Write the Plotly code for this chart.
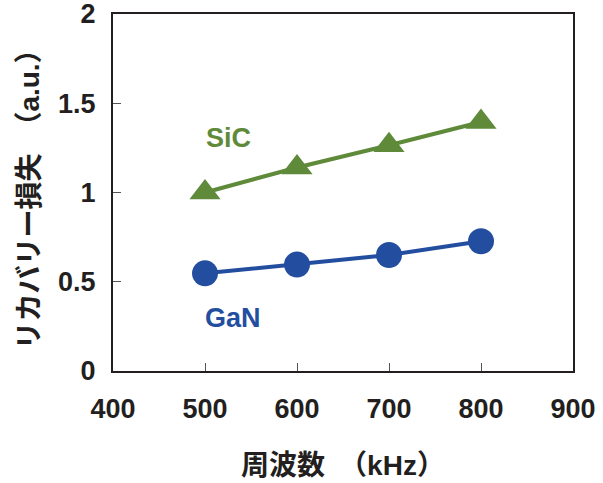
import plotly.graph_objects as go

freq = [500, 600, 700, 800]
sic = [1.00, 1.14, 1.265, 1.395]
gan = [0.547, 0.596, 0.65, 0.727]
x_ticks = [400, 500, 600, 700, 800, 900]
y_ticks = [0, 0.5, 1, 1.5, 2]
y_tick_text = ["0", "0.5", "1", "1.5", "2"]

GREEN = "#5e8a3a"
BLUE = "#234ea0"
DARK = "#231f20"
LATIN = "Liberation Sans, Arial, sans-serif"
CJK = "Liberation Sans, Noto Sans CJK JP, sans-serif"

fig = go.Figure()
fig.add_trace(go.Scatter(
    x=freq, y=sic, mode="lines+markers", name="SiC",
    line=dict(color=GREEN, width=4),
    marker=dict(symbol="triangle-up", size=27, color=GREEN),
    cliponaxis=False,
))
fig.add_trace(go.Scatter(
    x=freq, y=gan, mode="lines+markers", name="GaN",
    line=dict(color=BLUE, width=4),
    marker=dict(symbol="circle", size=26, color=BLUE),
    cliponaxis=False,
))

fig.add_annotation(x=525, y=1.305, text="<b>SiC</b>", showarrow=False,
                   font=dict(family=LATIN, size=27, color=GREEN))
fig.add_annotation(x=530, y=0.297, text="<b>GaN</b>", showarrow=False,
                   font=dict(family=LATIN, size=27, color=BLUE))

fig.update_layout(
    width=603, height=483,
    margin=dict(l=113, r=30, t=14, b=112, autoexpand=False),
    plot_bgcolor="white", paper_bgcolor="white",
    showlegend=False,
    font=dict(family=LATIN, color=DARK),
)
fig.update_xaxes(
    range=[400, 900], tickvals=x_ticks, ticktext=[str(v) for v in x_ticks],
    ticks="inside", ticklen=8, tickwidth=1, tickcolor="#555",
    showline=True, linewidth=2, linecolor=DARK, mirror=True,
    showgrid=False, zeroline=False, automargin=False,
    tickfont=dict(family=LATIN, size=27, color=DARK, weight="bold"),
    ticklabelstandoff=13, ticklabeloverflow="allow",
    title=dict(text="<b>周波数　（kHz）</b>", font=dict(family=CJK, size=28, color=DARK), standoff=32),
)
fig.update_yaxes(
    range=[0, 2], tickvals=y_ticks, ticktext=y_tick_text,
    ticks="inside", ticklen=8, tickwidth=1, tickcolor="#555",
    showline=True, linewidth=2, linecolor=DARK, mirror=True,
    showgrid=False, zeroline=False, automargin=False,
    tickfont=dict(family=LATIN, size=27, color=DARK, weight="bold"),
    ticklabelstandoff=10, ticklabeloverflow="allow",
    title=dict(text="<b>リカバリー損失　（a.u.）</b>", font=dict(family=CJK, size=28, color=DARK), standoff=10),
)

fig.write_html(
    "out.html",
    config={"displayModeBar": False},
    post_script="document.body.style.margin='0';document.body.style.overflow='hidden';",
)
